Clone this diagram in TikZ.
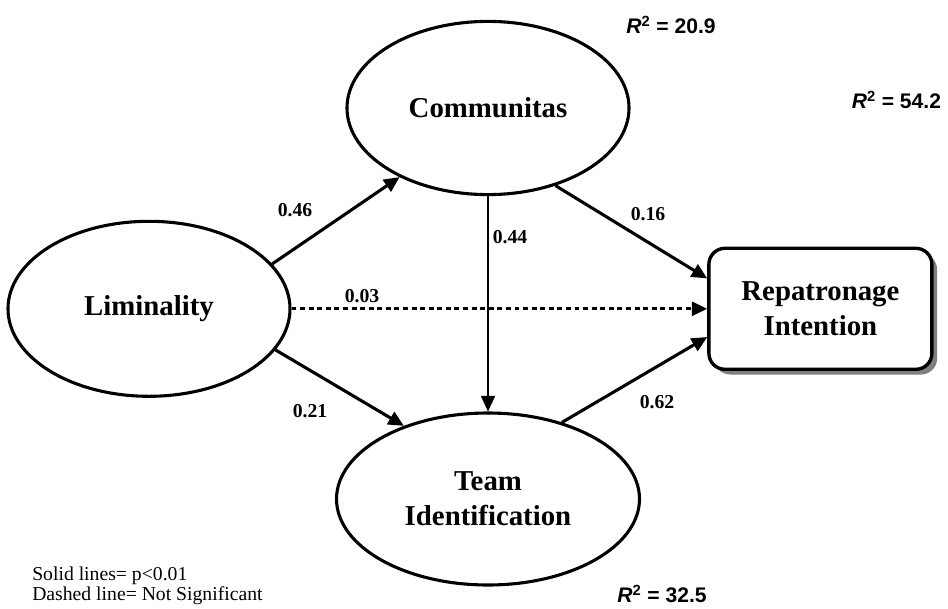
\documentclass[tikz,border=0pt]{standalone}
\usepackage{fontspec}
\setmainfont{Liberation Serif}
\newfontfamily\arialfont{Liberation Sans}
\usepackage{tikz}
\usetikzlibrary{arrows.meta,shapes.geometric,shadows}

\begin{document}
\begin{tikzpicture}[
    construct/.style={draw, ellipse, line width=2.2pt, inner sep=0pt, align=center, font=\bfseries\fontsize{20.5}{25}\selectfont},
    outcome/.style={draw, rounded corners=0.4cm, line width=2.4pt, fill=white, align=center, minimum width=5.575cm, minimum height=3.025cm, font=\bfseries\fontsize{20.5}{25}\selectfont, drop shadow={shadow xshift=0.13cm, shadow yshift=-0.13cm, fill=black!50, opacity=1}},
    pathedge/.style={-{Triangle[length=11pt,width=10pt]}, line width=2.2pt},
    nsedge/.style={-{Triangle[length=11pt,width=10pt]}, line width=2.2pt, dash pattern=on 3.5pt off 2.6pt},
    thinedge/.style={-{Triangle[length=11pt,width=10pt]}, line width=1pt},
    coef/.style={font=\bfseries\fontsize{14}{16}\selectfont},
    rsq/.style={font=\arialfont\bfseries\fontsize{15}{17}\selectfont}
]
    \useasboundingbox (0,0) rectangle (23.7,15.2);

    \node[construct, minimum width=7.05cm, minimum height=4.375cm] (liminality) at (3.725,7.48) {Liminality};
    \node[construct, minimum width=7.05cm, minimum height=4.33cm] (communitas) at (12.2,12.5) {Communitas};
    \node[construct, minimum width=7.575cm, minimum height=4.3cm] (teamid) at (12.2,2.725) {Team\\Identification};
    \node[outcome] (repatronage) at (20.51,7.48) {Repatronage\\Intention};

    \draw[pathedge] (liminality.20) -- (communitas.218);
    \draw[pathedge] (liminality.-18) -- (teamid.139);
    \draw[nsedge] (liminality) -- (repatronage);
    \draw[thinedge] (communitas) -- (teamid);
    \draw[pathedge] (communitas.-49) -- (repatronage.165);
    \draw[pathedge] (teamid.46) -- (repatronage.194);

    \node[coef] (c46) at (7.375,9.95) {0.46};
    \node[coef] (c44) at (12.75,9.275) {0.44};
    \node[coef] (c16) at (16.2,9.85) {0.16};
    \node[coef] (c03) at (9.05,7.8) {0.03};
    \node[coef] (c21) at (7.75,4.925) {0.21};
    \node[coef] (c62) at (16.425,5.15) {0.62};

    \node[rsq] (r2com) at (16.775,14.575) {\textit{R}\textsuperscript{2} = 20.9};
    \node[rsq, anchor=east] (r2rep) at (23.65,12.7) {\textit{R}\textsuperscript{2} = 54.2};
    \node[rsq] (r2team) at (16.55,0.35) {\textit{R}\textsuperscript{2} = 32.5};

    \node[anchor=base west, align=left, inner sep=0pt, font=\fontsize{14}{14}\selectfont] (legend) at (0.8,0.2)
        {Solid lines= p<0.01\\Dashed line= Not Significant};
\end{tikzpicture}
\end{document}
